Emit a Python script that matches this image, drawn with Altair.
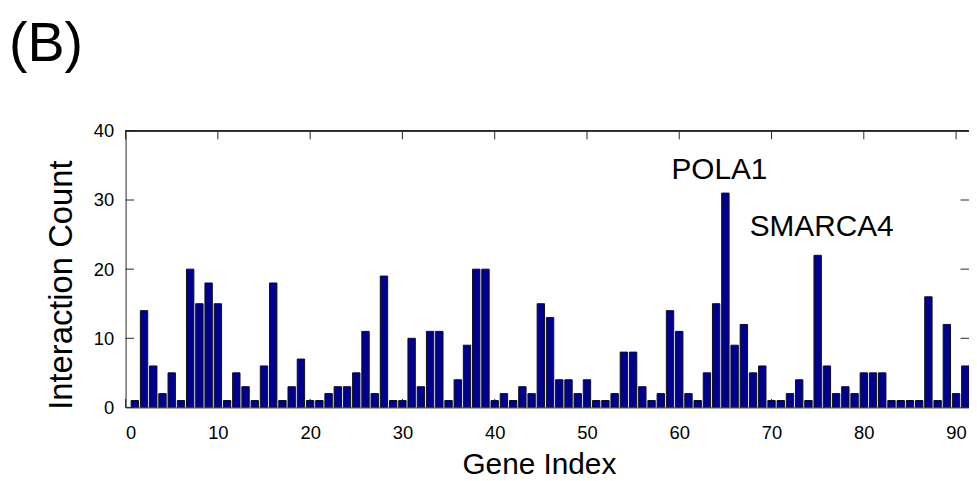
import altair as alt
import pandas as pd

# ---- data ----
gene_index = list(range(1, 92))
counts = [1, 14, 6, 2, 5, 1, 20, 15, 18, 15,
          1, 5, 3, 1, 6, 18, 1, 3, 7, 1,
          1, 2, 3, 3, 5, 11, 2, 19, 1, 1,
          10, 3, 11, 11, 1, 4, 9, 20, 20, 1,
          2, 1, 3, 2, 15, 13, 4, 4, 2, 4,
          1, 1, 2, 8, 8, 3, 1, 2, 14, 11,
          2, 1, 5, 15, 31, 9, 12, 5, 6, 1,
          1, 2, 4, 1, 22, 6, 2, 3, 2, 5,
          5, 5, 1, 1, 1, 1, 16, 1, 12, 2, 6]
x_ticks = [0, 10, 20, 30, 40, 50, 60, 70, 80, 90]
y_ticks = [0, 10, 20, 30, 40]
labels = ["POLA1", "SMARCA4"]
label_gene = [65, 75]

FONT = "Liberation Sans"
W, H = 850, 278.7
XMAX = 91.4
TICK = 8.5
AXC = "#262626"

df = pd.DataFrame({"gene": gene_index, "count": counts})
xt = pd.DataFrame({"t": x_ticks})
yt = pd.DataFrame({"t": y_ticks})

xscale = alt.Scale(domain=[0, XMAX], nice=False, zero=False)
yscale = alt.Scale(domain=[0, 40], nice=False)

bars = alt.Chart(df).transform_calculate(
    x0="datum.gene - 0.4", x1="datum.gene + 0.4"
).mark_rect(color="#000090", stroke="#111111", strokeWidth=1, clip=True).encode(
    x=alt.X("x0:Q", scale=xscale, axis=alt.Axis(
        values=x_ticks, ticks=False, tickSize=0, grid=False, labelFont=FONT,
        labelFontSize=18.5, labelColor="black", labelPadding=16, domainColor=AXC,
        domainWidth=1, title="Gene Index", titleFont=FONT, titleFontSize=30,
        titleFontWeight="normal", titleColor="black", titleX=416.5, titleY=66.3,
        titleAlign="center", titleBaseline="alphabetic")),
    x2="x1:Q",
    y=alt.Y("count:Q", scale=yscale, axis=alt.Axis(
        values=y_ticks, ticks=False, tickSize=0, grid=False, labelFont=FONT,
        labelFontSize=18.5, labelColor="black", labelPadding=12, domainColor=AXC,
        domainWidth=1, title="Interaction Count", titleFont=FONT, titleFontSize=33,
        titleFontWeight="normal", titleColor="black", titleX=-55, titleY=155,
        titleAlign="center", titleBaseline="alphabetic", titleAngle=270)),
    y2=alt.datum(0),
)

top_line = alt.Chart(yt).mark_rule(color=AXC, strokeWidth=1).encode(
    y=alt.value(0), x=alt.value(0), x2=alt.value(W))

bottom_ticks = alt.Chart(xt).mark_rule(color=AXC, strokeWidth=1).encode(
    x=alt.X("t:Q", scale=xscale), y=alt.value(H), y2=alt.value(H - TICK))
top_ticks = alt.Chart(xt).mark_rule(color=AXC, strokeWidth=1).encode(
    x=alt.X("t:Q", scale=xscale), y=alt.value(0), y2=alt.value(TICK))
left_ticks = alt.Chart(yt).mark_rule(color=AXC, strokeWidth=1).encode(
    y=alt.Y("t:Q", scale=yscale), x=alt.value(0), x2=alt.value(TICK))
right_ticks = alt.Chart(yt).mark_rule(color=AXC, strokeWidth=1).encode(
    y=alt.Y("t:Q", scale=yscale), x=alt.value(W), x2=alt.value(W - TICK))

ann = pd.DataFrame({"label": labels, "gene": label_gene})
ann = ann.merge(df, on="gene")
pola = alt.Chart(ann[ann.label == "POLA1"]).mark_text(
    font=FONT, fontSize=30, color="black", align="center", baseline="alphabetic",
    dx=-6, dy=-14.7).encode(
    x=alt.X("gene:Q", scale=xscale), y=alt.Y("count:Q", scale=yscale), text="label:N")
smarca = alt.Chart(ann[ann.label == "SMARCA4"]).mark_text(
    font=FONT, fontSize=30, color="black", align="center", baseline="alphabetic",
    dx=4, dy=-19).encode(
    x=alt.X("gene:Q", scale=xscale), y=alt.Y("count:Q", scale=yscale), text="label:N")

panel = alt.Chart(pd.DataFrame({"t": ["(B)"]})).mark_text(
    font=FONT, fontSize=56, color="black", align="left", baseline="alphabetic").encode(
    x=alt.value(-117.5), y=alt.value(-70.5), text="t:N")

chart = alt.layer(
    bottom_ticks, bars, top_line, top_ticks, left_ticks, right_ticks, pola, smarca, panel
).properties(
    width=W, height=H, autosize="none",
    padding={"left": 118.5, "top": 122, "right": 0, "bottom": 72},
).configure_view(stroke=None)

chart.save("out.html", embed_options={"renderer": "svg", "actions": False})
